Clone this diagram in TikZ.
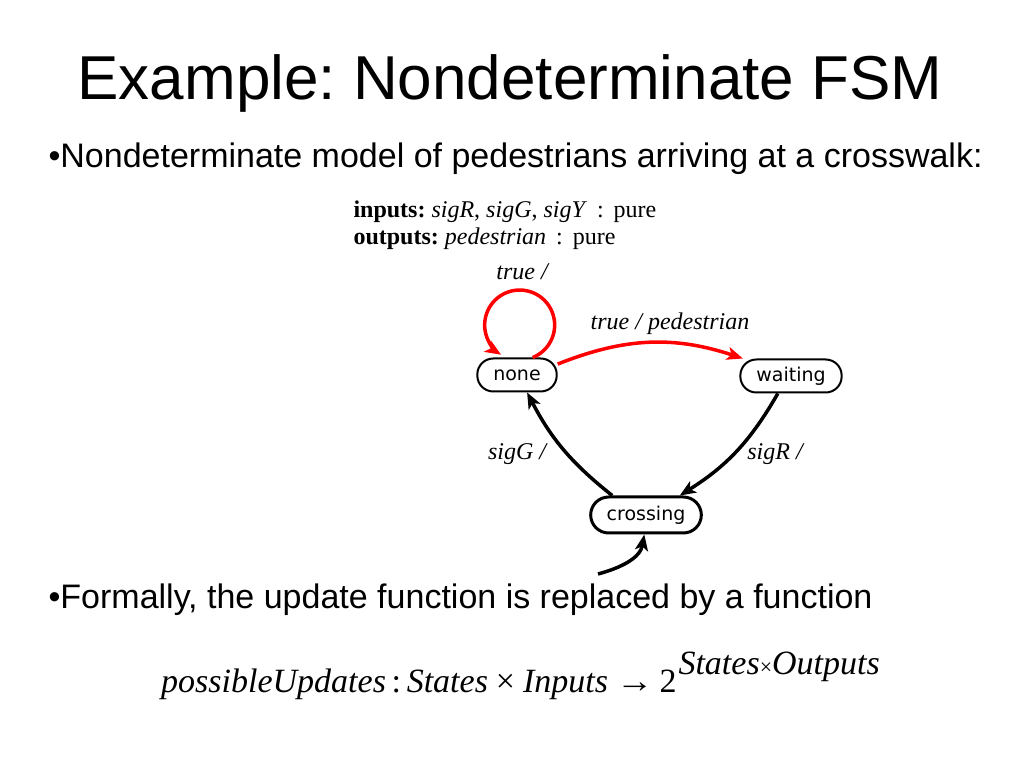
\documentclass[tikz,border=0pt]{standalone}
\usepackage{fontspec}
\setmainfont{Liberation Serif}
\setsansfont{Liberation Sans}
\newfontfamily\statefont{DejaVu Sans}
\usetikzlibrary{arrows.meta}
\frenchspacing

\begin{document}
\begin{tikzpicture}[x=1pt,y=1pt,
        state/.style={draw, line width=2pt, rounded corners=16pt, minimum height=33pt,
            inner xsep=16pt, font=\statefont\fontsize{19}{19}\selectfont},
        trans/.style={line width=3.5pt, -{Stealth[length=16pt,width=13pt,inset=4pt]}},
        label/.style={font=\fontsize{24}{24}\selectfont\itshape, anchor=base},
        slide/.style={font=\sffamily\fontsize{34}{34}\selectfont, anchor=base west}]
        % Define the page
        \def\pagewidth{1024}
        \def\pageheight{768}
        \fill[white] (0,0) rectangle (\pagewidth,\pageheight);
        \useasboundingbox (0,0) rectangle (\pagewidth,\pageheight);

        % Title and bullets
        \node[anchor=base, font=\sffamily\fontsize{62}{62}\selectfont] (title) at (510,668) {Example: Nondeterminate FSM};
        \node[slide] (bulletone) at (45,600) {•Nondeterminate model of pedestrians arriving at a crosswalk:};
        \node[slide] (bullettwo) at (45,160) {•Formally, the update function is replaced by a function};

        % Inputs and outputs of the machine
        \node[anchor=base west, font=\fontsize{24}{24}\selectfont] (inputs) at (350,550)
            {\textbf{inputs:} \textit{sigR}, \textit{sigG}, \textit{sigY} \,:\, pure};
        \node[anchor=base west, font=\fontsize{24}{24}\selectfont] (outputs) at (350,523)
            {\textbf{outputs:} \textit{pedestrian} \,:\, pure};

        % Draw the states
        \node[state] (none) at (517,393) {none};
        \node[state] (waiting) at (791,392) {waiting};
        \node[state, line width=3pt, minimum height=36pt, rounded corners=18pt] (crossing) at (646,253) {crossing};
        \coordinate (init) at (598,194);

        % Draw the transitions
        \draw[trans, red] (none.48) arc[start angle=-68, end angle=238, radius=35];
        \draw[trans, red] (none.15) to[bend left=20] (waiting.160);
        \draw[trans] (crossing.150) to[bend left=12] (none.-60);
        \draw[trans] (waiting.-127) to[bend left=14] (crossing.30);
        \draw[trans] (init) to[out=15, in=-100] (crossing.-95);

        % Add the guards and outputs
        \node[label] (looplabel) at (522,488) {true /};
        \node[label] (pedlabel) at (670,438) {true / pedestrian};
        \node[label] (sigglabel) at (517,308) {sigG /};
        \node[label] (sigrlabel) at (775,308) {sigR /};

        % Add the update function
        \node[anchor=base west, font=\fontsize{34}{34}\selectfont, inner sep=0pt] (update) at (161,76)
            {\textit{possibleUpdates}\,:\,\textit{States}\hspace{8pt}×\hspace{8pt}\textit{Inputs}\hspace{8pt}\scalebox{1.1}[1]{→}\hspace{6pt}2\hspace{2pt}\raisebox{18pt}{\textit{States}{\fontsize{22}{22}\selectfont×}\textit{Outputs}}};
    \end{tikzpicture}
\end{document}
